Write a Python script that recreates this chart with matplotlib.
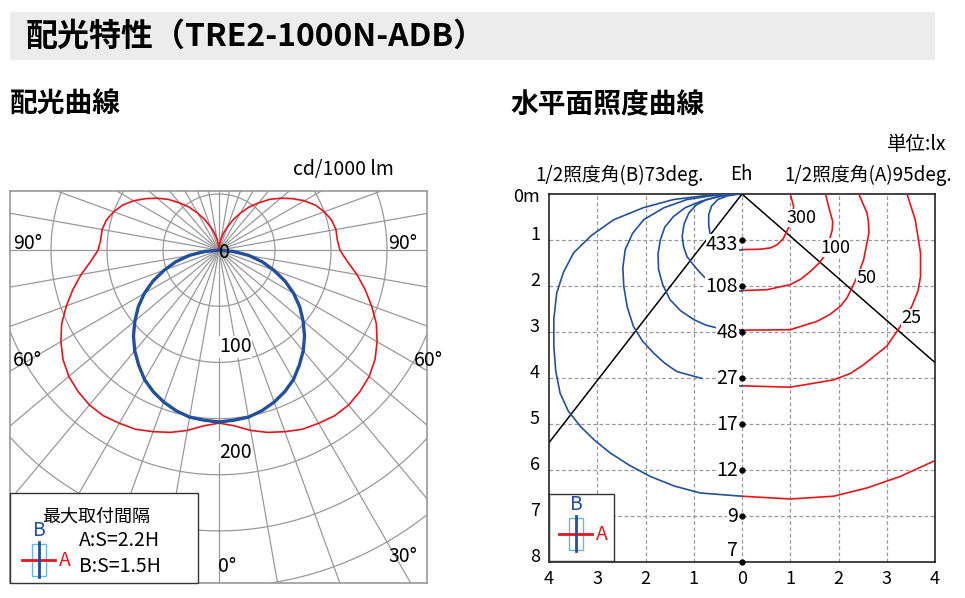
import numpy as np
import matplotlib
matplotlib.use("Agg")
import matplotlib.pyplot as plt
from matplotlib.patches import Rectangle

plt.rcParams['font.family'] = ['Noto Sans CJK JP', 'DejaVu Sans']

# ---- data: polar candela distribution (cd/1000 lm) ----
angles_A = list(range(0, 181, 5))
cd_A = [154, 157, 163, 168, 172, 176, 178, 180, 180, 178, 175, 170, 163, 155, 145, 135, 125, 115, 108,
        106, 106, 104, 100, 95, 88, 80, 72, 64, 55, 47, 38, 30, 22, 16, 10, 5, 0]
angles_B = list(range(0, 91, 5))
cd_B = [153, 152, 151, 148, 144, 139, 133, 125, 117, 108, 98, 88, 77, 65, 52, 40, 27, 13, 0]
rings = [50, 100, 150, 200, 250, 300, 350]
ring_labels = {0: "0", 100: "100", 200: "200"}

# ---- data: illuminance ----
depths = [1, 2, 3, 4, 5, 6, 7, 8]
eh_values = [433, 108, 48, 27, 17, 12, 9, 7]
half_angle_B = 73
half_angle_A = 95
A_levels = [300, 100, 50, 25, 10]
A_x = [[0, 0.38, 0.6, 0.73, 0.85, 0.93, 1.04, 1.07, 1.0],
       [0, 0.52, 1.0, 1.22, 1.42, 1.6, 1.73, 1.87, 1.88, 1.83, 1.73],
       [0, 1.0, 1.55, 1.82, 2.04, 2.18, 2.28, 2.42, 2.52, 2.63, 2.62, 2.59, 2.42],
       [0, 1.0, 1.9, 2.25, 2.52, 3.0, 3.28, 3.52, 3.65, 3.7, 3.7, 3.59, 3.42],
       [0, 1.0, 1.9, 2.59, 3.28, 3.97]]
A_y = [[1.21, 1.2, 1.17, 1.1, 0.98, 0.81, 0.56, 0.27, 0],
       [2.1, 2.08, 1.97, 1.85, 1.68, 1.5, 1.32, 0.78, 0.6, 0.41, 0],
       [2.96, 2.95, 2.77, 2.62, 2.44, 2.25, 2.04, 1.72, 1.43, 0.85, 0.6, 0.41, 0],
       [4.17, 4.2, 4.04, 3.9, 3.71, 3.31, 2.88, 2.44, 2.1, 1.79, 1.28, 0.56, 0],
       [6.57, 6.63, 6.57, 6.39, 6.14, 5.81]]
A_label_xy = [(1.24, 0.52), (1.93, 1.17), (2.58, 1.83), (3.5, 2.7), None]
B_x = [[-0.05, -0.3, -0.5, -0.63, -0.69, -0.69, -0.66],
       [-0.17, -0.45, -0.73, -0.95, -1.1, -1.2, -1.24, -1.21, -1.14, -1.0, -0.86, -0.66],
       [-0.17, -0.5, -0.86, -1.18, -1.42, -1.6, -1.69, -1.74, -1.73, -1.64, -1.49, -1.27, -1.0, -0.75, -0.52, -0.03],
       [-0.17, -0.65, -1.14, -1.62, -2.04, -2.27, -2.42, -2.47, -2.45, -2.38, -2.25, -2.06, -1.83, -1.6, -1.35, -0.83],
       [-0.17, -0.8, -1.42, -2.05, -2.66, -3.12, -3.49, -3.7, -3.84, -3.9, -3.9, -3.86, -3.77, -3.6, -3.35, -3.05,
        -2.73, -2.33, -1.9, -1.4, -0.86, 0]]
B_y = [[0, 0.04, 0.12, 0.26, 0.45, 0.67, 0.88],
       [0, 0.05, 0.12, 0.24, 0.41, 0.65, 0.92, 1.15, 1.36, 1.55, 1.72, 1.93],
       [0, 0.06, 0.16, 0.3, 0.49, 0.72, 0.99, 1.3, 1.64, 1.98, 2.3, 2.54, 2.73, 2.85, 2.91, 2.96],
       [0, 0.04, 0.12, 0.3, 0.56, 0.86, 1.21, 1.6, 2.01, 2.45, 2.88, 3.2, 3.46, 3.68, 3.86, 4.01],
       [0, 0.04, 0.12, 0.3, 0.56, 0.9, 1.28, 1.7, 2.15, 2.72, 3.31, 3.85, 4.33, 4.72, 5.05, 5.36,
        5.63, 5.9, 6.14, 6.35, 6.5, 6.57]]
stub_y = [1.21, 2.1, 2.96, 4.17]

RED = '#e8141b'
BLUE = '#23509c'
W, H = 965, 598
fig = plt.figure(figsize=(9.65, 5.98), dpi=100)

def ftext(x, y, s, **kw):
    fig.text(x / W, 1 - y / H, s, **kw)

# title bar
fig.patches.append(Rectangle((10 / W, 1 - 60 / H), 925 / W, 48 / H, transform=fig.transFigure,
                             facecolor='#ececec', edgecolor='none'))
ftext(26, 37, "配光特性（TRE2-1000N-ADB）", fontsize=23, fontweight='bold', va='center')
ftext(10, 105, "配光曲線", fontsize=20, fontweight='bold', va='center')
ftext(510, 105, "水平面照度曲線", fontsize=20, fontweight='bold', va='center')
ftext(293, 170, "cd/1000 lm", fontsize=14, va='center')
ftext(946, 145, "単位:lx", fontsize=14, va='center', ha='right')
ftext(620, 175, "1/2照度角(B)73deg.", fontsize=13.5, va='center', ha='center')
ftext(741, 175, "Eh", fontsize=13.5, va='center', ha='center')
ftext(868, 175, "1/2照度角(A)95deg.", fontsize=13.5, va='center', ha='center')

# ---------- left polar chart ----------
ax = fig.add_axes([10 / W, 1 - 583 / H, 417 / W, 392 / H])
ax.set_xlim(-186.6, 185.7)
ax.set_ylim(-296.4, 52.7)
ax.set_xticks([]); ax.set_yticks([])
for s in ax.spines.values():
    s.set_color('#999999'); s.set_linewidth(1.2)
t = np.radians(np.arange(0, 361, 1))
for r in rings:
    ax.plot(r * np.sin(t), -r * np.cos(t), color='#999999', lw=0.9)
for a in range(0, 360, 10):
    ar = np.radians(a)
    ax.plot([0, 500 * np.sin(ar)], [0, -500 * np.cos(ar)], color='#999999', lw=0.9)

def polar_xy(angs, vals, sign):
    ar = np.radians(angs)
    v = np.array(vals, float)
    return sign * v * np.sin(ar), -v * np.cos(ar)

for sign in (1, -1):
    x, y = polar_xy(angles_A, cd_A, sign)
    ax.plot(x, y, color=RED, lw=1.2)
    x, y = polar_xy(angles_B, cd_B, sign)
    ax.plot(x, y, color=BLUE, lw=2.4)
ax.text(0, -2, "0", fontsize=14, ha='left', va='center')
ax.text(0, -86, "100", fontsize=14, ha='left', va='center',
        bbox=dict(facecolor='white', edgecolor='none', pad=0.3))
ax.text(0, -180, "200", fontsize=14, ha='left', va='center',
        bbox=dict(facecolor='white', edgecolor='none', pad=0.3))
ftext(13, 243, "90°", fontsize=14, va='center')
ftext(388, 243, "90°", fontsize=14, va='center')
ftext(13, 360, "60°", fontsize=14, va='center')
ftext(414, 360, "60°", fontsize=14, va='center')
ftext(388, 557, "30°", fontsize=14, va='center')
ftext(218, 567, "0°", fontsize=14, va='center')

def legend_box(x0, y0, x1, y1):
    fig.patches.append(Rectangle((x0 / W, 1 - y1 / H), (x1 - x0) / W, (y1 - y0) / H,
                                 transform=fig.transFigure, facecolor='white',
                                 edgecolor='#333333', lw=1.0, zorder=5))

def icon(cx, cy):
    fig.patches.append(Rectangle(((cx - 7) / W, 1 - (cy + 16) / H), 14 / W, 32 / H,
                                 transform=fig.transFigure, facecolor='none',
                                 edgecolor='#6cb4e4', lw=1.0, zorder=6))
    fig.add_artist(plt.Line2D([(cx - 17) / W, (cx + 16) / W], [1 - cy / H] * 2, color=RED, lw=2, zorder=7))
    fig.add_artist(plt.Line2D([cx / W] * 2, [1 - (cy - 18) / H, 1 - (cy + 17) / H], color=BLUE, lw=2, zorder=7))
    ftext(cx, cy - 29, "B", color=BLUE, fontsize=14, ha='center', va='center', zorder=8)
    ftext(cx + 26, cy, "A", color=RED, fontsize=14, ha='center', va='center', zorder=8)

legend_box(10, 493, 198, 583)
icon(39, 560)
ftext(42, 517, "最大取付間隔", fontsize=13, va='center', zorder=8)
ftext(79, 541, "A:S=2.2H", fontsize=14, va='center', zorder=8)
ftext(79, 567, "B:S=1.5H", fontsize=14, va='center', zorder=8)

# ---------- right illuminance chart ----------
bx = fig.add_axes([549 / W, 1 - 562 / H, 386 / W, 368 / H])
bx.set_xlim(-4, 4)
bx.set_ylim(8, 0)
bx.set_xticks([]); bx.set_yticks([])
for s in bx.spines.values():
    s.set_color('#222222'); s.set_linewidth(1.2)
for v in range(-3, 4):
    bx.axvline(v, color='#9a9a9a', lw=0.9, ls=(0, (3, 2)), zorder=1)
for v in range(1, 8):
    bx.axhline(v, color='#9a9a9a', lw=0.9, ls=(0, (3, 2)), zorder=1)
ta = np.tan(np.radians(half_angle_A / 2))
tb = np.tan(np.radians(half_angle_B / 2))
bx.plot([0, 8 * ta], [0, 8], color='black', lw=1.1, zorder=2)
bx.plot([0, -8 * tb], [0, 8], color='black', lw=1.1, zorder=2)
for xs, ys in zip(A_x, A_y):
    bx.plot(xs, ys, color=RED, lw=1.2, zorder=3)
for xs, ys in zip(B_x, B_y):
    bx.plot(xs, ys, color=BLUE, lw=1.2, zorder=3)
for y in stub_y:
    bx.plot([-0.12, 0], [y, y], color=BLUE, lw=1.2, zorder=3)
for lev, p in zip(A_levels, A_label_xy):
    if p:
        bx.text(p[0], p[1], str(lev), fontsize=13, ha='center', va='center', zorder=4,
                bbox=dict(facecolor='white', edgecolor='none', pad=0.3))
for d, e in zip(depths, eh_values):
    bx.plot(0, d, 'o', color='black', ms=3.5, zorder=5, clip_on=False)
    yy = d + 0.1 if d == 1 else (d - 0.25 if d == 8 else d)
    bx.text(-0.08, yy, str(e), fontsize=14, ha='right', va='center', zorder=4,
            bbox=dict(facecolor='white', edgecolor='none', pad=0.3))
ftext(526, 197, "0m", fontsize=13, ha='center', va='center')
for d in depths:
    ftext(535, 195 + 46 * d - 6, str(d), fontsize=13, ha='center', va='center')
for i, lab in enumerate(["4", "3", "2", "1", "0", "1", "2", "3", "4"]):
    ftext(549 + 48.25 * i, 579, lab, fontsize=13, ha='center', va='center')
legend_box(549, 494, 614, 561)
icon(576, 534)

fig.savefig("out.png", dpi=100)
